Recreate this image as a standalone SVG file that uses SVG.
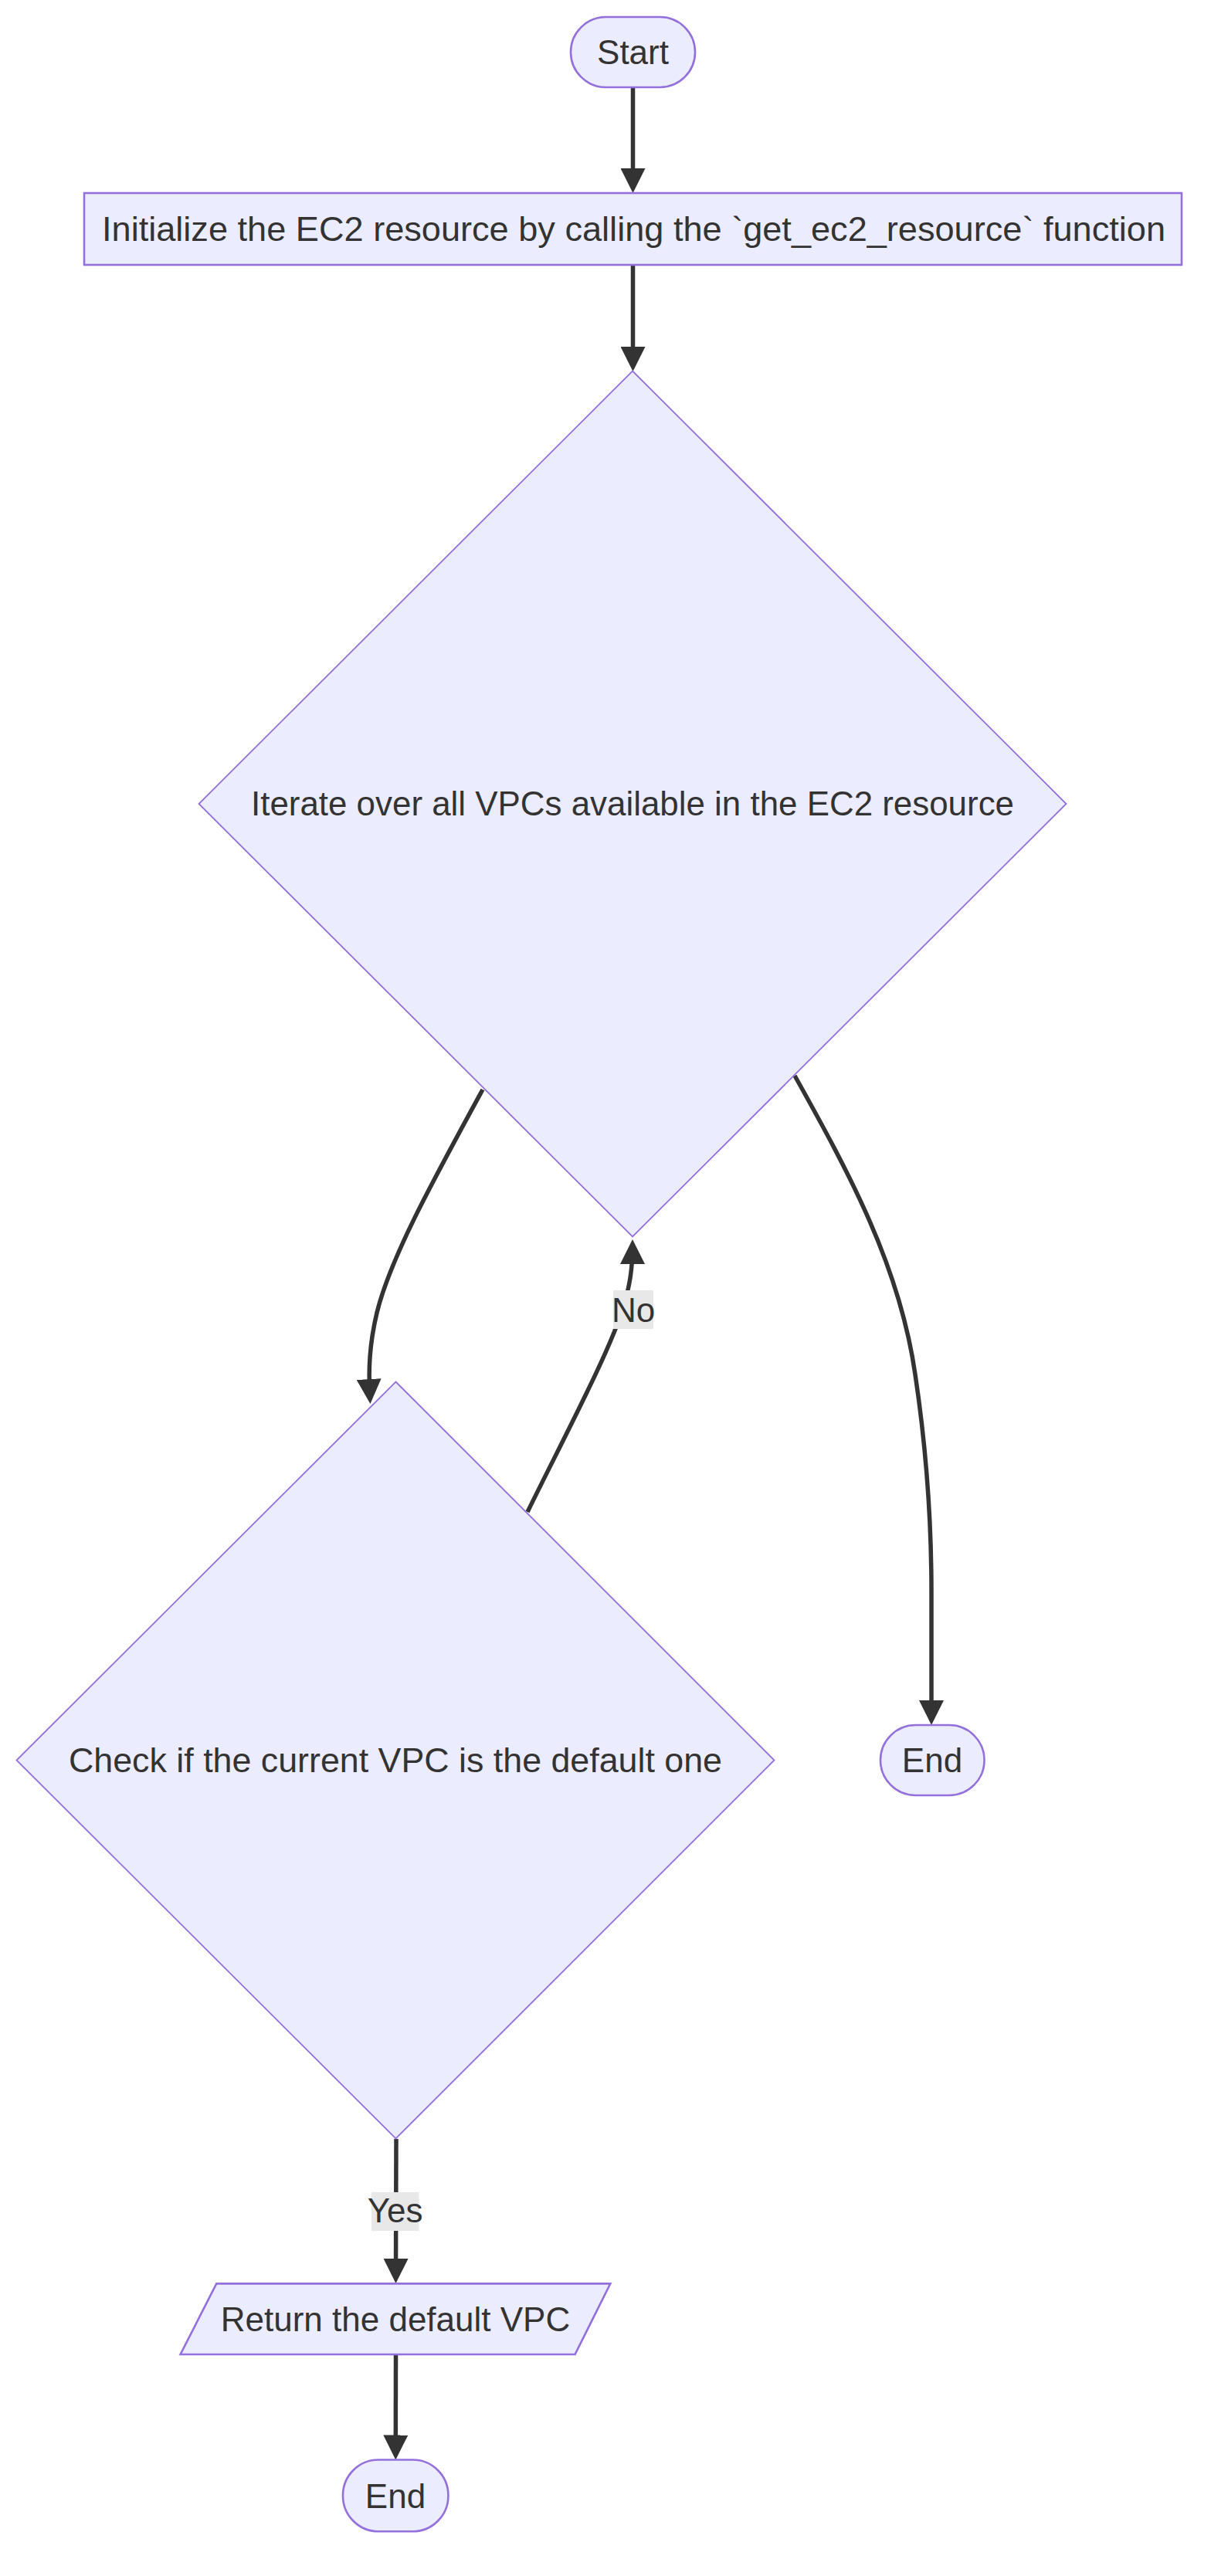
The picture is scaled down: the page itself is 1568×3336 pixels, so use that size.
<svg xmlns="http://www.w3.org/2000/svg" width="1568" height="3336" viewBox="0 0 1568 3336">
<style>
.node{fill:#ECECFF;stroke:#9370DB;stroke-width:2.6}
.dia{fill:#ECECFF;stroke:#9370DB;stroke-width:1.8}
.lbl{font-family:"Liberation Sans",Arial,sans-serif;font-size:44px;fill:#333333;text-anchor:middle}
.edge{fill:none;stroke:#333333;stroke-width:5.5}
.ebg{fill:#e8e8e8}
</style>
<defs>
<marker id="arrow" viewBox="0 0 32 32" refX="24" refY="16" markerWidth="32" markerHeight="32" markerUnits="userSpaceOnUse" orient="auto">
<path d="M0,0 L32,16 L0,32 z" fill="#333333"/>
</marker>
</defs>
<rect width="1568" height="3336" fill="#ffffff"/>
<g id="edges">
<path class="edge" d="M819.5,113 L819.5,242" marker-end="url(#arrow)"/>
<path class="edge" d="M819.5,343 L819.5,473" marker-end="url(#arrow)"/>
<path class="edge" d="M625,1411 C560,1530 505,1630 488,1700 C478,1742 477,1775 479,1810" marker-end="url(#arrow)"/>
<path class="edge" d="M683,1958 C730,1862 790,1750 808,1690 C815,1665 819,1645 819,1613" marker-end="url(#arrow)"/>
<path class="edge" d="M1029,1393 C1100,1520 1165,1640 1185,1780 C1200,1880 1206,1980 1206,2060 L1206,2226" marker-end="url(#arrow)"/>
<path class="edge" d="M513,2770 L512.5,2949" marker-end="url(#arrow)"/>
<path class="edge" d="M512.5,3049 L512.3,3177.5" marker-end="url(#arrow)"/>
</g>
<g id="edge-labels">
<g id="label-no">
<rect class="ebg" x="794" y="1671" width="52" height="50"/>
<text class="lbl" x="820" y="1711.5">No</text>
</g>
<g id="label-yes">
<rect class="ebg" x="481" y="2839" width="61.5" height="50"/>
<text class="lbl" x="511.7" y="2878">Yes</text>
</g>
</g>
<g id="node-start">
<rect class="node" x="739" y="22" width="161" height="91" rx="45.5" ry="45.5"/>
<text class="lbl" x="819.5" y="83.3">Start</text>
</g>
<g id="node-init">
<rect class="node" x="109" y="250" width="1421" height="93"/>
<text class="lbl" x="820.5" y="312" textLength="1377" lengthAdjust="spacingAndGlyphs">Initialize the EC2 resource by calling the `get_ec2_resource` function</text>
</g>
<g id="node-iterate">
<polygon class="dia" points="819,480.5 1380.5,1041 819,1601.5 257.5,1041"/>
<text class="lbl" x="819" y="1056" textLength="988" lengthAdjust="spacingAndGlyphs">Iterate over all VPCs available in the EC2 resource</text>
</g>
<g id="node-check">
<polygon class="dia" points="512.5,1789.5 1002.5,2279.5 512.5,2769.5 21.5,2279.5"/>
<text class="lbl" x="512" y="2295" textLength="846" lengthAdjust="spacingAndGlyphs">Check if the current VPC is the default one</text>
</g>
<g id="node-end1">
<rect class="node" x="1140" y="2234" width="134.5" height="91" rx="45.5" ry="45.5"/>
<text class="lbl" x="1207" y="2295">End</text>
</g>
<g id="node-return">
<polygon class="node" points="280.3,2957.4 790.3,2957.4 744.5,3049 233.6,3049"/>
<text class="lbl" x="512" y="3019">Return the default VPC</text>
</g>
<g id="node-end2">
<rect class="node" x="444" y="3185.5" width="136.4" height="92.7" rx="46" ry="46"/>
<text class="lbl" x="512" y="3247.5">End</text>
</g>
</svg>
